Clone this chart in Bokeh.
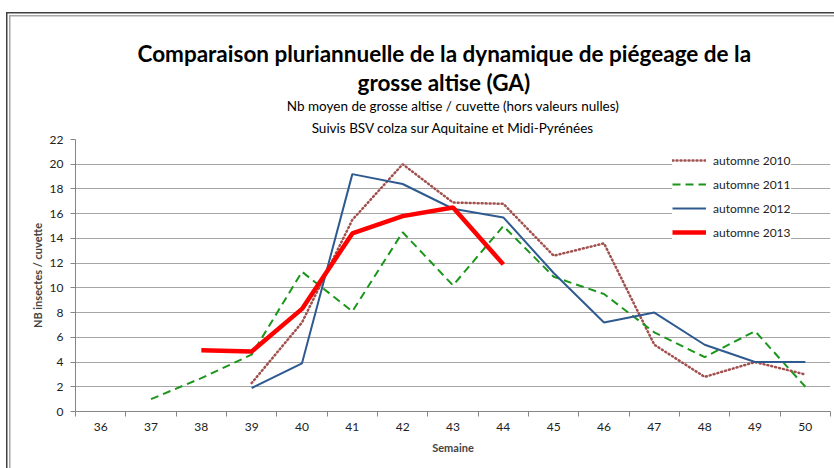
from bokeh.plotting import figure
from bokeh.models import Range1d, FixedTicker, Legend, LegendItem, Title
from bokeh.embed import file_html
from bokeh.resources import INLINE

weeks = [36, 37, 38, 39, 40, 41, 42, 43, 44, 45, 46, 47, 48, 49, 50]

w2010 = [39, 40, 41, 42, 43, 44, 45, 46, 47, 48, 49, 50]
v2010 = [2.3, 7.2, 15.5, 20.0, 16.9, 16.8, 12.6, 13.6, 5.4, 2.8, 4.0, 3.0]

w2011 = [37, 38, 39, 40, 41, 42, 43, 44, 45, 46, 47, 48, 49, 50]
v2011 = [1.0, 2.7, 4.6, 11.3, 8.1, 14.5, 10.2, 15.0, 10.9, 9.5, 6.4, 4.4, 6.5, 2.0]

w2012 = [39, 40, 41, 42, 43, 44, 45, 46, 47, 48, 49, 50]
v2012 = [1.9, 3.9, 19.2, 18.4, 16.4, 15.7, 11.2, 7.2, 8.0, 5.4, 4.0, 4.0]

w2013 = [38, 39, 40, 41, 42, 43, 44]
v2013 = [4.95, 4.85, 8.3, 14.4, 15.8, 16.5, 11.9]

y_ticks = list(range(0, 23, 2))

FONT = "Lato"
W, H = 834, 468
FL, FR, FB, FT = 75, 830, 411, 139  # frame left / right / bottom / top in page pixels

p = figure(width=W, height=H, output_backend="svg", toolbar_location=None,
           x_range=Range1d(35.5, 50.5), y_range=Range1d(0, 22),
           min_border_left=FL, min_border_right=W - FR, min_border_top=FT, min_border_bottom=H - FB)
p.background_fill_color = "white"
p.border_fill_color = None
p.outline_line_color = None
# double chart frame (top and left edges), drawn as layered inset shadows
p.styles = {"box-shadow": "inset 6px 12px 0 0 #ffffff, inset 7.5px 13.5px 0 0 #404040, "
                          "inset 9px 15px 0 0 #ffffff, inset 10.5px 16.5px 0 0 #a6a6a6"}

# axes
p.xaxis.ticker = FixedTicker(ticks=weeks, minor_ticks=[w - 0.5 for w in weeks] + [50.5])
p.xaxis.major_tick_line_color = None
p.xaxis.minor_tick_line_color = "#868686"
p.xaxis.minor_tick_out = 5
p.xaxis.minor_tick_in = 0
p.xaxis.axis_line_color = "#868686"
p.xaxis.major_label_text_font = FONT
p.xaxis.major_label_text_font_size = "12px"
p.xaxis.major_label_text_color = "#222222"
p.xaxis.major_label_standoff = 5
p.xaxis.axis_label = "Semaine"
p.xaxis.axis_label_text_font = FONT
p.xaxis.axis_label_text_font_size = "11px"
p.xaxis.axis_label_text_font_style = "bold"
p.xaxis.axis_label_standoff = 7

p.yaxis.ticker = FixedTicker(ticks=y_ticks)
p.yaxis.minor_tick_line_color = None
p.yaxis.major_tick_line_color = "#868686"
p.yaxis.major_tick_out = 5
p.yaxis.major_tick_in = 0
p.yaxis.axis_line_color = "#868686"
p.yaxis.major_label_text_font = FONT
p.yaxis.major_label_text_font_size = "12px"
p.yaxis.major_label_text_color = "#222222"
p.yaxis.major_label_standoff = 7
p.yaxis.axis_label = "NB insectes / cuvette"
p.yaxis.axis_label_text_font = FONT
p.yaxis.axis_label_text_font_size = "11px"
p.yaxis.axis_label_text_font_style = "bold"
p.yaxis.axis_label_standoff = 3

p.xgrid.grid_line_color = None
p.ygrid.grid_line_color = "#a6a6a6"
p.ygrid.grid_line_width = 1

r10 = p.line(w2010, v2010, line_color="#a0504d", line_width=2.5, line_dash="1 3", line_cap="round")
r11 = p.line(w2011, v2011, line_color="#1a961a", line_width=2, line_dash="8 5")
r12 = p.line(w2012, v2012, line_color="#2f5a8f", line_width=2)
r13 = p.line(w2013, v2013, line_color="#ff0000", line_width=4.5)

legend = Legend(items=[LegendItem(label="automne 2010", renderers=[r10]),
                       LegendItem(label="automne 2011", renderers=[r11]),
                       LegendItem(label="automne 2012", renderers=[r12]),
                       LegendItem(label="automne 2013", renderers=[r13])],
                location=(597, 169), glyph_width=34, glyph_height=20, spacing=4,
                padding=6, label_standoff=7, label_width=78,
                label_text_font=FONT, label_text_font_size="12px", label_text_color="#222222",
                border_line_color=None, background_fill_color="white", background_fill_alpha=1)
p.add_layout(legend)

# titles: stacked from the frame outward
def title(text, size, standoff, style="normal", align="center", offset=0, lh=1.0, alpha=1.0):
    p.add_layout(Title(text=text, align=align, offset=offset, standoff=standoff,
                       text_font=FONT, text_font_size=size, text_font_style=style,
                       text_line_height=lh, text_color="#000000", text_alpha=alpha), "above")

title(".", "1px", 7, alpha=0.0)  # invisible spacer between frame and subtitles
title("Suivis BSV colza sur Aquitaine et Midi-Pyrénées", "13.5px", 8)
title("Nb moyen de grosse altise / cuvette (hors valeurs nulles)", "13.5px", 0)
title("grosse altise (GA)", "22.5px", 0, "bold", align="left", offset=357 - FL)
title("Comparaison pluriannuelle de la dynamique de piégeage de la", "22.5px", 0, "bold",
      align="left", offset=137 - FL)

open("out.html", "w").write(file_html(p, INLINE))
